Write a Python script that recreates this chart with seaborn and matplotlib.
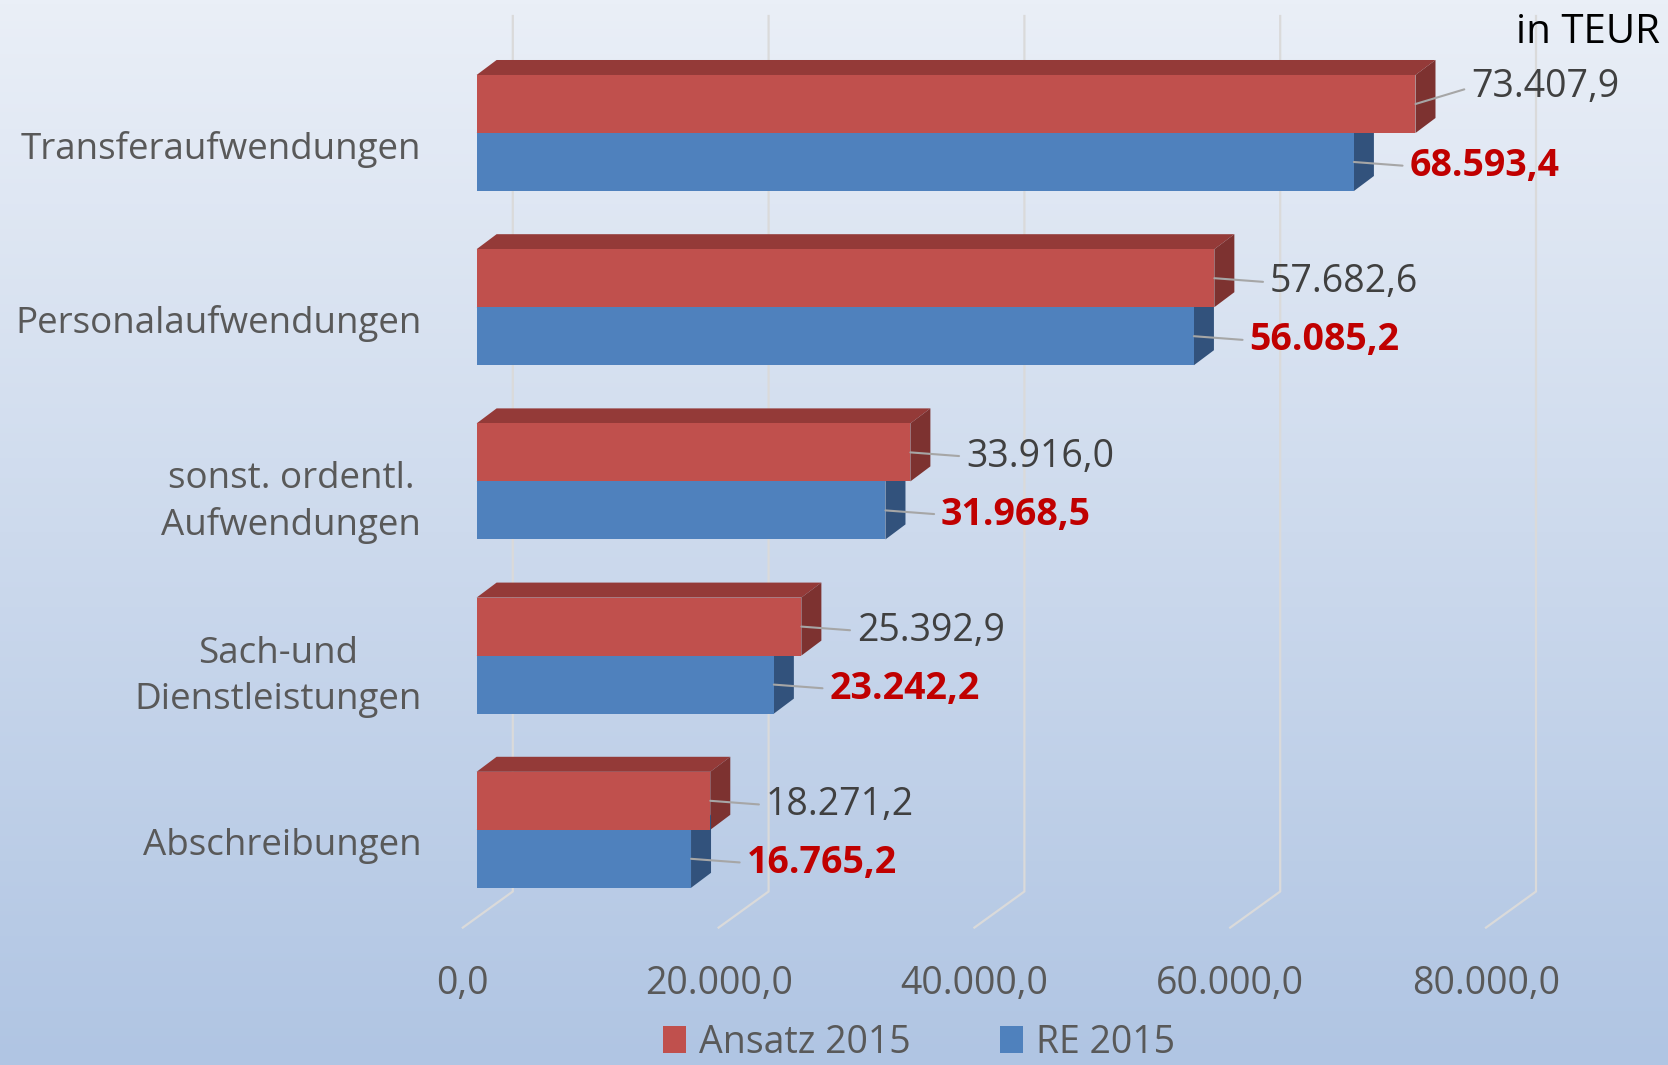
import numpy as np
import pandas as pd
import matplotlib
matplotlib.use("Agg")
import matplotlib.pyplot as plt
from matplotlib.patches import Polygon, Patch
from matplotlib.transforms import ScaledTranslation
import seaborn as sns

# Daten
kategorien = ["Transferaufwendungen", "Personalaufwendungen",
              "sonst. ordentl.\nAufwendungen", "Sach-und\nDienstleistungen",
              "Abschreibungen"]
ansatz_2015 = [73407.9, 57682.6, 33916.0, 25392.9, 18271.2]
re_2015 = [68593.4, 56085.2, 31968.5, 23242.2, 16765.2]
serien = ["Ansatz 2015", "RE 2015"]
x_ticks = [0, 20000, 40000, 60000, 80000]
einheit = "in TEUR"

farben = ["#C0504D", "#4F81BD"]
farben_oben = ["#943A38", "#3C6494"]
farben_seite = ["#7D3230", "#32527C"]
grau = "#595959"


def de_format(v):
    s = f"{v:,.1f}"
    return s.replace(",", "X").replace(".", ",").replace("X", ".")


df = pd.DataFrame({
    "Kategorie": kategorien * 2,
    "Serie": [serien[0]] * len(kategorien) + [serien[1]] * len(kategorien),
    "Wert": ansatz_2015 + re_2015,
})

plt.rcParams["font.family"] = ["Open Sans", "DejaVu Sans"]

W, H = 1668, 1065
fig = plt.figure(figsize=(W / 100, H / 100), dpi=100)

# Hintergrund mit Verlauf
bg = fig.add_axes([0, 0, 1, 1], zorder=-10)
c_top = np.array([234, 239, 247]) / 255
c_bot = np.array([176, 197, 227]) / 255
t = np.linspace(0, 1, 256)[:, None]
grad = c_top * (1 - t) + c_bot * t
bg.imshow(grad[:, None, :], aspect="auto", extent=[0, 1, 0, 1])
bg.axis("off")

# Pixel-Geometrie (Vorderkante der Balken)
x0_px = 476.6
px_per = 255.8 / 20000
y0_px, y_step = 133.0, 174.2
left_px, right_px = 438.0, 1578.0
top_px, bottom_px = 10.0, 927.6

ax = fig.add_axes([left_px / W, (H - bottom_px) / H,
                   (right_px - left_px) / W, (bottom_px - top_px) / H])
ax.patch.set_alpha(0)

sns.barplot(data=df, x="Wert", y="Kategorie", hue="Serie", palette=farben,
            width=0.666, saturation=1, legend=False, ax=ax, zorder=3,
            linewidth=0)

ax.set_xlim((left_px - x0_px) / px_per, (right_px - x0_px) / px_per)
ax.set_ylim((bottom_px - y0_px) / y_step, (top_px - y0_px) / y_step)

# 3D-Tiefe
dx = 20 / px_per
dy = 15 / y_step
for i, cont in enumerate(ax.containers):
    for r in cont:
        x, y, w, h = r.get_x(), r.get_y(), r.get_width(), r.get_height()
        oben = Polygon([(x, y), (x + w, y), (x + w + dx, y - dy), (x + dx, y - dy)],
                       closed=True, fc=farben_oben[i], ec="none", zorder=2)
        seite = Polygon([(x + w, y), (x + w + dx, y - dy), (x + w + dx, y + h - dy), (x + w, y + h)],
                        closed=True, fc=farben_seite[i], ec="none", zorder=2)
        ax.add_patch(oben)
        ax.add_patch(seite)

# Gitterlinien (Rückwand + Boden)
back_off = 36.2 / px_per
front_off = -13.8 / px_per
y_back_top = (16 - y0_px) / y_step
y_back_bot = (891.5 - y0_px) / y_step
y_front = (bottom_px - y0_px) / y_step
for v in x_ticks:
    ax.plot([v + front_off, v + back_off, v + back_off],
            [y_front, y_back_bot, y_back_top],
            color="#DADADA", lw=1.6, zorder=1, clip_on=False)

# Achsen
ax.set_xticks(x_ticks)
ax.set_xticklabels([de_format(v) for v in x_ticks])
ax.set_xlabel("")
ax.set_ylabel("")
for s in ax.spines.values():
    s.set_visible(False)
ax.tick_params(axis="x", length=0, pad=27, labelsize=27, labelcolor=grau)
ax.tick_params(axis="y", length=0, pad=12, labelsize=26.5, labelcolor=grau)
for lab in ax.get_xticklabels():
    lab.set_transform(lab.get_transform() + ScaledTranslation(-13.8 / 100, 0, fig.dpi_scale_trans))
for lab in ax.get_yticklabels():
    lab.set_multialignment("center")
    lab.set_linespacing(1.35)
    lab.set_transform(lab.get_transform() + ScaledTranslation(0, -12 / 100, fig.dpi_scale_trans))

# Datenbeschriftungen
for i, cont in enumerate(ax.containers):
    for j, r in enumerate(cont):
        w = r.get_width()
        yc = r.get_y() + r.get_height() / 2
        ty = 12 if (i == 0 and j == 0) else -3
        ax.annotate(de_format(w), xy=(w, yc), xytext=(40, ty),
                    textcoords="offset points", ha="left", va="center",
                    fontsize=27,
                    color="#404040" if i == 0 else "#C00000",
                    fontweight="normal" if i == 0 else "bold",
                    arrowprops=dict(arrowstyle="-", color="#A6A6A6", lw=1.5,
                                    shrinkA=3, shrinkB=0, relpos=(0, 0.5)),
                    zorder=5)

fig.text(1660 / W, 1 - 33 / H, einheit, ha="right", va="center",
         fontsize=29, color="black")

handles = [Patch(facecolor=farben[0]), Patch(facecolor=farben[1])]
fig.legend(handles, serien, loc="center", bbox_to_anchor=(0.551, 0.021),
           ncol=2, frameon=False, fontsize=27, labelcolor=grau,
           handlelength=0.6, handleheight=0.7, handletextpad=0.35,
           columnspacing=2.4, borderpad=0.1)

fig.savefig("out.png", dpi=100)
